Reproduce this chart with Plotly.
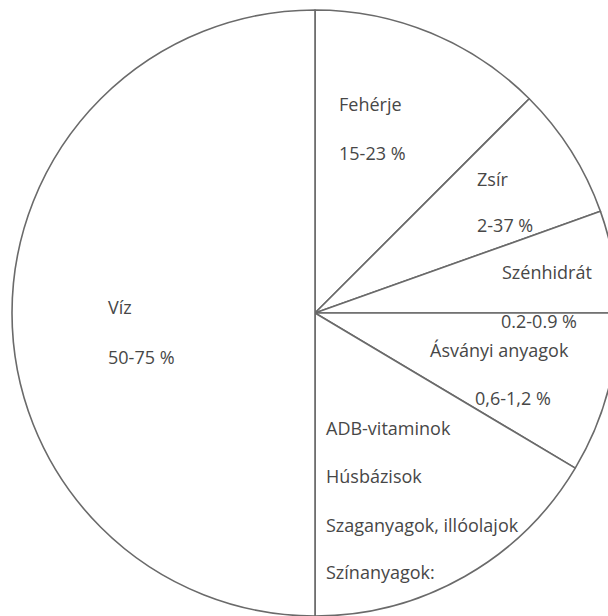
import plotly.graph_objects as go

# Slice sizes (degrees of arc), clockwise from 12 o'clock
categories = ["Fehérje", "Zsír", "Szénhidrát", "Ásványi anyagok", "ADB-vitaminok", "Víz"]
values = [45, 25.4, 19.6, 30.8, 59.2, 180]

# Label texts
label_texts = [
    "Fehérje", "15-23 %",
    "Zsír", "2-37 %",
    "Szénhidrát", "0.2-0.9 %",
    "Ásványi anyagok", "0,6-1,2 %",
    "ADB-vitaminok", "Húsbázisok", "Szaganyagok, illóolajok", "Színanyagok:",
    "Víz", "50-75 %",
]
# label anchor positions in page pixels (left, middle)
label_px = [
    (337, 104), (337, 153),
    (475, 179), (475, 225),
    (500, 272), (499, 321),
    (428, 350), (473, 398),
    (324, 428), (324, 476), (324, 525), (324, 572),
    (106, 307), (106, 357),
]

W, H = 618, 616
ML, MR, MT, MB = 12, 0, 10, 0
PW, PH = W - ML - MR, H - MT - MB

fig = go.Figure(
    go.Pie(
        labels=categories,
        values=values,
        sort=False,
        direction="clockwise",
        rotation=0,
        textinfo="none",
        hoverinfo="label",
        marker=dict(colors=["white"] * len(values), line=dict(color="#6a6a6a", width=1.6)),
        showlegend=False,
    )
)

annotations = []
for t, (px, py) in zip(label_texts, label_px):
    annotations.append(
        dict(
            text=t,
            x=(px - ML) / PW,
            y=1 - (py - MT) / PH,
            xref="paper",
            yref="paper",
            xanchor="left",
            yanchor="middle",
            showarrow=False,
            font=dict(family="Open Sans", size=18, color="#474747"),
        )
    )

fig.update_layout(
    width=W,
    height=H,
    margin=dict(l=ML, r=MR, t=MT, b=MB, pad=0),
    paper_bgcolor="white",
    plot_bgcolor="white",
    annotations=annotations,
)

fig.write_html(
    "out.html",
    config={"displayModeBar": False},
    post_script="document.body.style.margin='0';document.body.style.overflow='hidden';document.documentElement.style.overflow='hidden';",
)
